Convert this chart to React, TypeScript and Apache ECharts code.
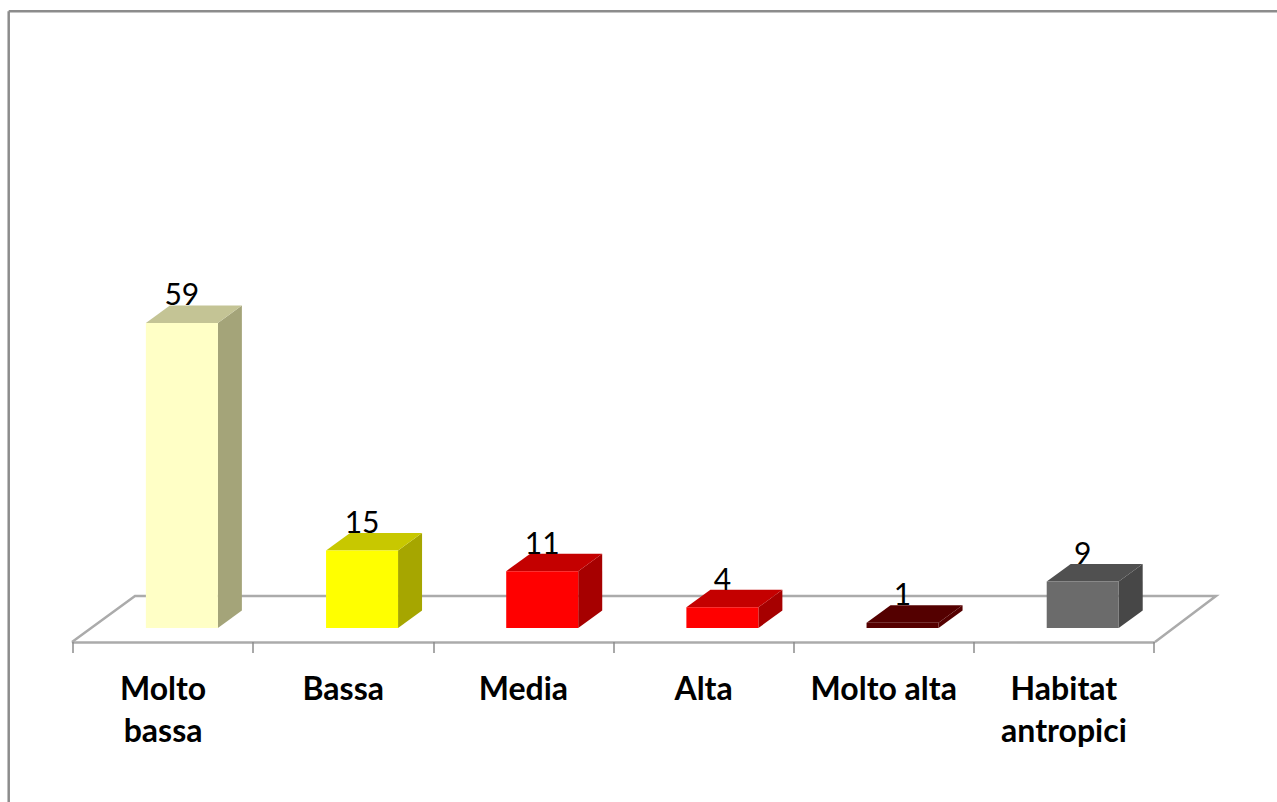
import React, { useEffect, useRef } from "react";
import * as echarts from "echarts";

const categories = ["Molto\nbassa", "Bassa", "Media", "Alta", "Molto alta", "Habitat\nantropici"];
const values = [59, 15, 11, 4, 1, 9];
const frontColors = ["#FFFFC6", "#FFFF00", "#FF0000", "#FF0000", "#560000", "#6B6B6B"];
const topColors = ["#C4C495", "#C8C800", "#C40000", "#C40000", "#540000", "#505050"];
const sideColors = ["#A4A479", "#A6A600", "#A60000", "#A60000", "#540000", "#474747"];

const FONT = "Lato, Carlito, 'Open Sans', sans-serif";
const BAR_W = 72;
const BAR_SHIFT = 18.8;
const DX = 24;
const DY = 17.5;

function renderBar(params: any, api: any) {
  const i = api.value(0);
  const v = api.value(1);
  const top = api.coord([i, v]);
  const base = api.coord([i, 0]);
  const x0 = top[0] + BAR_SHIFT - BAR_W / 2;
  const x1 = x0 + BAR_W;
  const yT = top[1];
  const yB = base[1];
  return {
    type: "group",
    children: [
      {
        type: "polygon",
        shape: { points: [[x1, yT], [x1 + DX, yT - DY], [x1 + DX, yB - DY], [x1, yB]] },
        style: { fill: sideColors[i] },
      },
      {
        type: "polygon",
        shape: { points: [[x0, yT], [x0 + DX, yT - DY], [x1 + DX, yT - DY], [x1, yT]] },
        style: { fill: topColors[i] },
      },
      {
        type: "rect",
        shape: { x: x0, y: yT, width: BAR_W, height: yB - yT },
        style: { fill: frontColors[i] },
      },
      {
        type: "text",
        style: {
          x: x0 + BAR_W / 2,
          y: yT - DY + 3,
          text: String(v),
          fill: "#000000",
          font: `400 30px ${FONT}`,
          textAlign: "center",
          textVerticalAlign: "bottom",
        },
      },
    ],
  };
}

export default function App() {
  const ref = useRef<HTMLDivElement>(null);
  useEffect(() => {
    document.body.style.margin = "0";
    document.body.style.overflow = "hidden";
    const chart = echarts.init(ref.current!, undefined, { renderer: "svg" });
    const frame = { stroke: "#8C8C8C", lineWidth: 2.5 };
    const floor = { stroke: "#ABABAB", lineWidth: 2.5, fill: "none" };
    chart.setOption({
      animation: false,
      backgroundColor: "#FFFFFF",
      grid: { left: 73, width: 1081, top: 111, height: 517 },
      xAxis: {
        type: "category",
        data: categories,
        offset: 14,
        axisLine: { onZero: false, lineStyle: { color: "#ABABAB", width: 2.5 } },
        axisTick: { show: true, length: 11, alignWithLabel: false, lineStyle: { color: "#8C8C8C", width: 1.5 } },
        axisLabel: {
          interval: 0,
          margin: 24,
          color: "#000000",
          fontFamily: FONT,
          fontWeight: 700,
          fontSize: 32,
          lineHeight: 42,
        },
      },
      yAxis: { type: "value", min: 0, max: 100, show: false },
      graphic: [
        { type: "line", silent: true, shape: { x1: 8.7, y1: 11.3, x2: 1277, y2: 11.3 }, style: frame },
        { type: "line", silent: true, shape: { x1: 8.7, y1: 11.3, x2: 8.7, y2: 802 }, style: frame },
        {
          type: "polyline",
          silent: true,
          z: 0,
          shape: { points: [[72, 642], [135, 596], [1216, 596], [1155, 642]] },
          style: floor,
        },
      ],
      series: [
        {
          type: "custom",
          z: 5,
          coordinateSystem: "cartesian2d",
          clip: false,
          renderItem: renderBar,
          encode: { x: 0, y: 1 },
          data: values.map((v, i) => [i, v]),
        },
      ],
    });
    return () => chart.dispose();
  }, []);
  return <div ref={ref} style={{ width: 1277, height: 802, position: "absolute", left: 0, top: 0 }} />;
}
